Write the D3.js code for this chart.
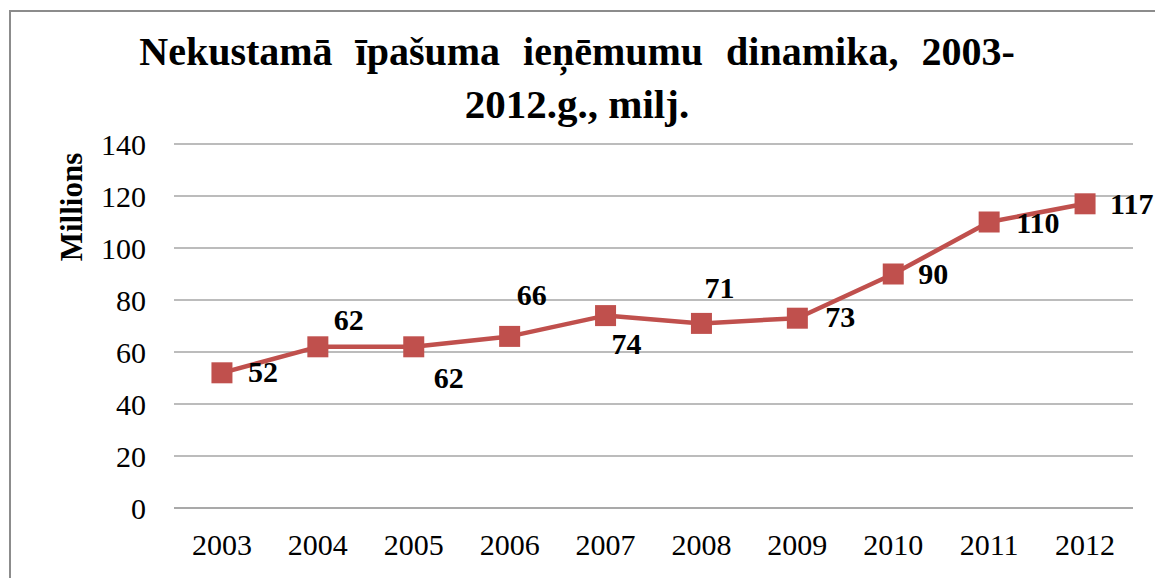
<!DOCTYPE html>
<html>
<head>
<meta charset="utf-8">
<script src="https://cdn.jsdelivr.net/npm/d3@7"></script>
<style>
  body { margin: 0; background: #fff; }
  svg { display: block; font-family: "Liberation Serif", "Times New Roman", serif; }
</style>
</head>
<body>
<div id="chart"></div>
<script>
const years = ["2003", "2004", "2005", "2006", "2007", "2008", "2009", "2010", "2011", "2012"];
const values = [52, 62, 62, 66, 74, 71, 73, 90, 110, 117];
const labelPos = ["right", "above", "below", "above", "below", "above", "right", "right", "right", "right"];
const yTicks = [0, 20, 40, 60, 80, 100, 120, 140];

const width = 1155, height = 578;
const margin = { top: 144, right: 22, bottom: 70, left: 174 };

// hand-placed label nudges, as in the original chart [dx, dy]
const labelNudge = [[26, 9], [31, -17], [35, 41], [22, -31], [21, 38], [18, -25], [28, 9], [25, 10], [27, 11], [25, 10]];

const svg = d3.select("#chart").append("svg")
  .attr("width", width)
  .attr("height", height);

// chart frame (right and bottom edges fall outside the picture)
svg.append("rect")
  .attr("x", 10).attr("y", 11)
  .attr("width", width + 20).attr("height", height + 20)
  .attr("fill", "none")
  .attr("stroke", "#8c8c8c")
  .attr("stroke-width", 2);

const x = d3.scaleBand()
  .domain(years)
  .range([margin.left, width - margin.right]);

const y = d3.scaleLinear()
  .domain([0, 140])
  .range([height - margin.bottom, margin.top]);

// gridlines
svg.append("g")
  .selectAll("line")
  .data(yTicks)
  .join("line")
  .attr("x1", margin.left)
  .attr("x2", width - margin.right)
  .attr("y1", (d) => y(d))
  .attr("y2", (d) => y(d))
  .attr("stroke", (d) => (d === 0 ? "#8c8c8c" : "#a6a6a6"))
  .attr("stroke-width", 1.5);

// y axis labels
const yAxis = svg.append("g")
  .attr("transform", `translate(${margin.left - 28},0)`)
  .call(d3.axisLeft(y).tickValues(yTicks).tickSize(0).tickPadding(0));
yAxis.select(".domain").remove();
yAxis.selectAll("text")
  .attr("font-family", "Liberation Serif")
  .attr("font-size", 30)
  .attr("fill", "#000")
  .attr("dy", "0.34em");

// x axis labels
const xAxis = svg.append("g")
  .attr("transform", `translate(0,${height - margin.bottom})`)
  .call(d3.axisBottom(x).tickSize(0).tickPadding(0));
xAxis.select(".domain").remove();
xAxis.selectAll("text")
  .attr("font-family", "Liberation Serif")
  .attr("font-size", 30)
  .attr("fill", "#000")
  .attr("dy", null)
  .attr("y", 47);

// y axis title
svg.append("text")
  .attr("transform", `translate(82,207) rotate(-90)`)
  .attr("text-anchor", "middle")
  .attr("font-weight", "bold")
  .attr("font-size", 31)
  .text("Millions");

// title
const title = svg.append("text")
  .attr("text-anchor", "middle")
  .attr("font-weight", "bold")
  .attr("font-size", 40);
title.append("tspan").attr("x", 577).attr("y", 65).attr("word-spacing", 13)
  .text("Nekustamā īpašuma ieņēmumu dinamika, 2003-");
title.append("tspan").attr("x", 577).attr("y", 118).attr("font-size", 41)
  .text("2012.g., milj.");

const cx = (d, i) => x(years[i]) + x.bandwidth() / 2;

const line = d3.line()
  .x((d, i) => cx(d, i))
  .y((d) => y(d));

svg.append("path")
  .datum(values)
  .attr("fill", "none")
  .attr("stroke", "#c0504d")
  .attr("stroke-width", 4.5)
  .attr("stroke-linejoin", "round")
  .attr("d", line);

const m = 21;
svg.append("g")
  .selectAll("rect")
  .data(values)
  .join("rect")
  .attr("x", (d, i) => cx(d, i) - m / 2)
  .attr("y", (d) => y(d) - m / 2)
  .attr("width", m)
  .attr("height", m)
  .attr("fill", "#c0504d");

svg.append("g")
  .selectAll("text")
  .data(values)
  .join("text")
  .attr("font-weight", "bold")
  .attr("font-size", 30)
  .attr("text-anchor", (d, i) => (labelPos[i] === "right" ? "start" : "middle"))
  .attr("x", (d, i) => cx(d, i) + labelNudge[i][0])
  .attr("y", (d, i) => y(d) + labelNudge[i][1])
  .text((d) => d);
</script>
</body>
</html>
